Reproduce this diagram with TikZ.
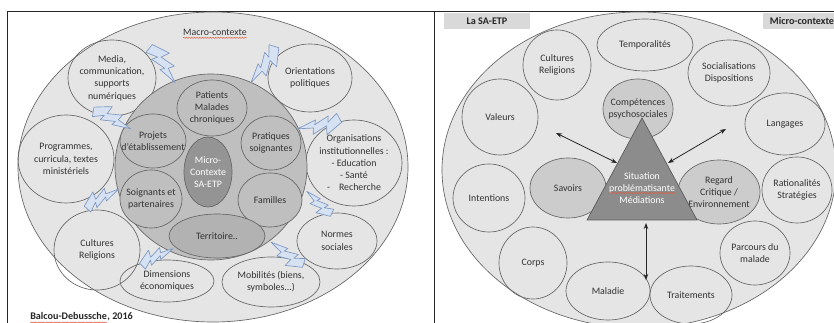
\documentclass[tikz,border=0pt]{standalone}
\usepackage{fontspec}
\setmainfont{Carlito}
\usetikzlibrary{arrows.meta,shapes.geometric,decorations.pathmorphing}

\definecolor{boltfill}{RGB}{214,226,242}
\definecolor{boltline}{RGB}{125,152,196}
\definecolor{spell}{RGB}{225,90,60}

\tikzset{
  oval/.style 2 args={ellipse, draw=black!60, line width=0.5pt, align=center, inner sep=-40pt,
    minimum width=#1*1.5pt, minimum height=#2*1.5pt, text=black!80},
  wavy/.style={draw=spell, line width=0.4pt, decorate, decoration={snake, amplitude=0.35pt, segment length=2pt}},
  dblarrow/.style={{Stealth[scale=0.8]}-{Stealth[scale=0.8]}, line width=0.6pt, black!85},
  tag/.style={fill=black!15, font=\fontsize{7.6}{9}\selectfont\bfseries, text=black!85, inner xsep=5pt, minimum height=11.25pt},
  bolt/.pic={
    \filldraw[fill=boltfill, draw=boltline, line width=0.5pt, line join=round]
      (0,-5) -- (16,-12) -- (14,-4) -- (28,-8) -- (26,-2.5) -- (40,1)
      -- (22,4) -- (24,0) -- (10,4) -- (12,-1.5) -- (2,4) -- cycle;
  }
}

\begin{document}
\begin{tikzpicture}[x=0.75pt, y=-0.75pt, font=\fontsize{7.4}{9.2}\selectfont]
	\useasboundingbox (0,0) rectangle (834,323);
	\fill[white] (0,0) rectangle (834,323);

	% frame
	\draw[black!85, line width=0.6pt] (7,323) -- (7,11) -- (834,11);
	\draw[black!85, line width=0.6pt] (434,11) -- (434,323);

	% ---------------- left : macro-contexte
	\node[oval={195}{155}, fill=black!10] (macro) at (213,167) {};
	\node[text=black!80, inner sep=0pt] (macro-lbl) at (215,32) {Macro-contexte};
	\draw[wavy] ([yshift=-1.8pt]macro-lbl.south west) -- ([yshift=-1.8pt]macro-lbl.south east);

	\node[oval={44}{38}] (media) at (112,78) {Media,\\communication,\\supports\\numériques};
	\node[oval={42}{34}] (orientations) at (310,78) {Orientations\\politiques};
	\node[oval={48}{44}] (programmes) at (66,159) {Programmes,\\curricula, textes\\ministériels};
	\node[oval={48}{43}] (organisations) at (354,163) {Organisations\\institutionnelles :\\- Education\\- Santé\\-~~~~Recherche};
	\node[oval={43}{40}] (cultures-l) at (97,250) {Cultures\\Religions};
	\node[oval={40}{28}] (normes) at (337,241) {Normes\\sociales};
	\node[oval={47}{21}] (dimensions) at (167,281) {Dimensions\\économiques};
	\node[oval={49}{25}] (mobilites) at (271,282) {Mobilités (biens,\\symboles...)};

	\node[oval={96}{93}, fill=black!25] (meso) at (211,167) {};
	\node[oval={35}{28}, fill=black!25] (patients) at (212,108) {Patients\\Malades\\chroniques};
	\node[oval={33}{27}, fill=black!25] (projets) at (153,141) {Projets\\d'établissement};
	\node[oval={30}{27}, fill=black!25] (pratiques) at (271,143) {Pratiques\\soignantes};
	\node[oval={31}{29}, fill=black!25] (soignants) at (151,199) {Soignants et\\partenaires};
	\node[oval={32}{27}, fill=black!25] (familles) at (270,200) {Familles};
	\node[oval={48}{22}, fill=black!30] (territoire) at (217,236) {Territoire..};
	\node[oval={24}{35}, fill=black!42, text=white] (micro-c) at (208,172) {Micro-\\Contexte\\SA-ETP};

	\pic[rotate=-50.5, scale=1.1] at (148,48) {bolt};
	\pic[rotate=-120, scale=1.1] at (274,45) {bolt};
	\pic[rotate=-22, scale=1.05] at (92,112) {bolt};
	\pic[rotate=-163, scale=1.1] at (340,117) {bolt};
	\pic[rotate=35, scale=0.95] at (87,210) {bolt};
	\pic[rotate=142, scale=0.85] at (333,213) {bolt};
	\pic[rotate=32, scale=0.9] at (142,267) {bolt};
	\pic[rotate=150, scale=1.0] at (305,263) {bolt};

	\node[anchor=base west, inner sep=0pt, font=\fontsize{7.6}{9}\selectfont\bfseries, text=black!85] (source) at (30,320) {Balcou-Debussche};
	\node[anchor=base west, inner sep=0pt, font=\fontsize{7.6}{9}\selectfont\bfseries, text=black!85] (year) at (source.base east) {, 2016};
	\draw[wavy] ([yshift=-1.6pt]source.south west) -- ([yshift=-1.6pt]source.south east);

	% ---------------- right : micro-contexte
	\node[oval={197}{158}, fill=black!10] (micro) at (639,170) {};
	\node[tag, minimum width=65pt] (sa-etp) at (487,21) {La SA-ETP};
	\node[tag, anchor=north west] (micro-lbl) at (763,13) {Micro-contexte};

	\node[oval={48}{26}] (temporalites) at (645,45) {Temporalités};
	\node[oval={34}{35}] (cultures-r) at (557,65) {Cultures\\Religions};
	\node[oval={41}{33}] (socialisations) at (729,73) {Socialisations\\Dispositions};
	\node[oval={38}{38}] (valeurs) at (500,117) {Valeurs};
	\node[oval={40}{31}] (langages) at (785,124) {Langages};
	\node[oval={36}{34}] (intentions) at (489,198) {Intentions};
	\node[oval={35}{33}] (rationalites) at (797,190) {Rationalités\\Stratégies};
	\node[oval={35}{32}] (parcours) at (755,253) {Parcours du\\malade};
	\node[oval={34}{36}] (corps) at (533,263) {Corps};
	\node[oval={42}{29}] (maladie) at (608,291) {Maladie};
	\node[oval={41}{29}] (traitements) at (691,295) {Traitements};

	\node[oval={35}{30}, fill=black!20] (competences) at (638,109) {Compétences\\psychosociales};
	\node[oval={38}{30}, fill=black!20] (savoirs) at (568,188) {Savoirs};
	\node[oval={41}{32}, fill=black!20] (regard) at (719,192) {Regard\\Critique /\\Environnement};

	\filldraw[fill=black!45, draw=black!65, line width=0.5pt] (642,118) -- (697,220) -- (587,220) -- cycle;
	\node[align=center, text=white] (situation) at (642,188) {Situation\\problématisante\\Médiations};
	\draw[wavy] ([shift={(-33,5)}]situation.center) -- ([shift={(33,5)}]situation.center);

	\coordinate (valeurs-end) at (556,133);
	\coordinate (sit-left) at (617,163);
	\coordinate (langages-end) at (726,129);
	\coordinate (sit-right) at (668,163);
	\coordinate (sit-bottom) at (646,223);
	\coordinate (soins-end) at (646,280);
	\draw[dblarrow] (valeurs-end) -- (sit-left);
	\draw[dblarrow] (langages-end) -- (sit-right);
	\draw[dblarrow] (sit-bottom) -- (soins-end);
\end{tikzpicture}
\end{document}
